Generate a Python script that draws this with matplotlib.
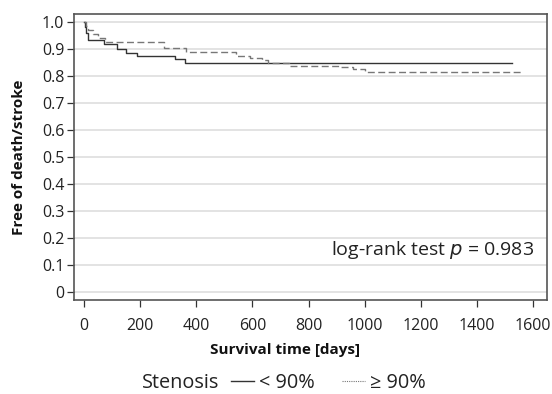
import matplotlib
matplotlib.use("Agg")
import matplotlib.pyplot as plt
from matplotlib.lines import Line2D

plt.rcParams['font.family'] = ['Open Sans', 'DejaVu Sans']

# Kaplan-Meier step data (time in days, survival fraction)
t_lt90 = [0, 3, 8, 13, 70, 118, 148, 190, 324, 358, 1524]
s_lt90 = [1.0, 0.98, 0.96, 0.935, 0.92, 0.90, 0.886, 0.875, 0.862, 0.847, 0.847]

t_ge90 = [0, 5, 15, 30, 50, 75, 285, 362, 540, 593, 635, 657, 729, 907, 960, 1003, 1566]
s_ge90 = [1.0, 0.985, 0.97, 0.955, 0.94, 0.927, 0.904, 0.889, 0.876, 0.867, 0.858,
          0.849, 0.839, 0.833, 0.827, 0.815, 0.815]

x_ticks = [0, 200, 400, 600, 800, 1000, 1200, 1400, 1600]
y_ticks = [0, 0.1, 0.2, 0.3, 0.4, 0.5, 0.6, 0.7, 0.8, 0.9, 1.0]
y_labels = ["0", "0.1", "0.2", "0.3", "0.4", "0.5", "0.6", "0.7", "0.8", "0.9", "1.0"]
legend_labels = ["< 90%", "≥ 90%"]

W, H = 552, 394
fig = plt.figure(figsize=(W / 100, H / 100), dpi=100)
ax = fig.add_axes([74 / W, 1 - 300 / H, 473 / W, 286 / H])

for y in y_ticks:
    ax.axhline(y, color='#dedede', lw=1.2, zorder=0)

ax.step(t_lt90, s_lt90, where='post', color='#333333', lw=1.0)
ax.step(t_ge90, s_ge90, where='post', color='#777777', lw=1.0, dashes=(5, 2.5))

ax.set_xlim(-36, 1650)
ax.set_ylim(-0.03, 1.03)
ax.set_xticks(x_ticks)
ax.set_xticklabels([str(v) for v in x_ticks])
ax.set_yticks(y_ticks)
ax.set_yticklabels(y_labels)
ax.tick_params(axis='both', labelsize=11.5, color='#333333', length=5, width=0.9,
               labelcolor='#222222')
ax.tick_params(axis='y', pad=2)
ax.tick_params(axis='x', pad=8)
for s in ax.spines.values():
    s.set_color('#555555')
    s.set_linewidth(1.2)

ax.set_xlabel("Survival time [days]", fontsize=11, fontweight='bold', color='#111111')
ax.set_ylabel("Free of death/stroke", fontsize=11, fontweight='bold', color='#111111')
ax.xaxis.set_label_coords((285 - 74) / 473, (300 - 343) / 286)
ax.yaxis.set_label_coords((26 - 74) / 473, 0.5)

ax.text(1605, 0.157, r"log-rank test $\it{p}$ = 0.983", ha='right', va='center',
        fontsize=14, color='#222222')

fig.text(142 / W, 1 - 383 / H, "Stenosis", fontsize=14.3, ha='left', va='center',
         color='#222222')
handles = [Line2D([], [], color='#333333', lw=1.0),
           Line2D([], [], color='#777777', lw=0.8, linestyle=(0, (1, 1)))]
fig.legend(handles, legend_labels, loc='center left',
           bbox_to_anchor=(231 / W, 1 - 383 / H), borderpad=0, borderaxespad=0,
           ncol=2, frameon=False, fontsize=14.3, handlelength=1.16,
           handletextpad=0.25, columnspacing=1.36, labelcolor='#222222')

fig.savefig("out.png", dpi=100)
